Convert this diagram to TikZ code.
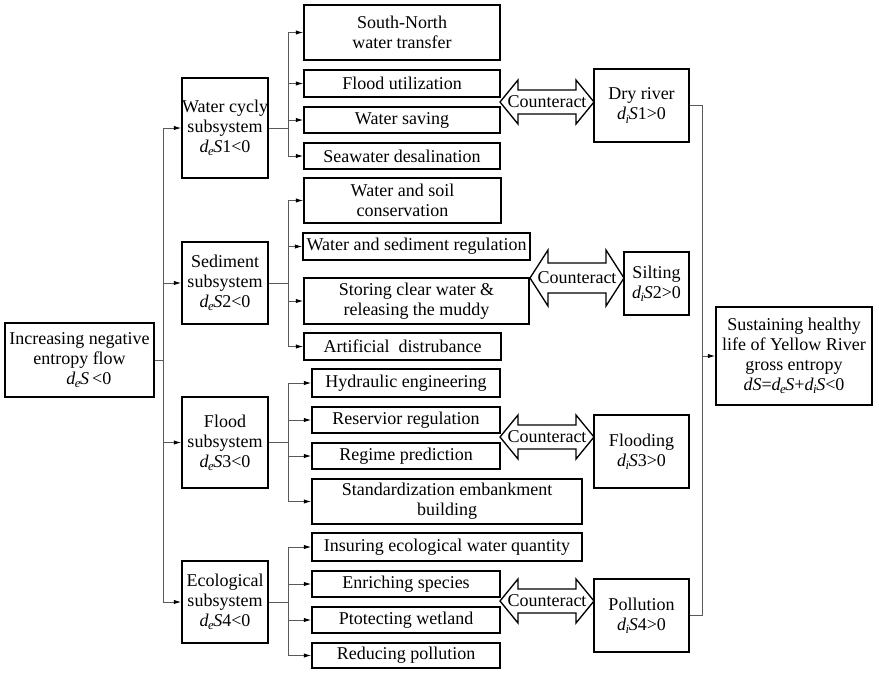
\documentclass[tikz,border=0pt]{standalone}
\usepackage{fontspec}
\setmainfont{Liberation Serif}
\usetikzlibrary{arrows.meta,calc}
\newcommand{\dS}[1]{\textit{d}\kern-0.03em\raisebox{-0.4ex}{\fontsize{9.5}{9.5}\selectfont\textit{#1}}\kern-0.02em\textit{S}}
\newcommand{\bx}[6]{\node[box, minimum width={(#4-#2)*0.75pt}, minimum height={(#5-#3)*0.75pt}] (#1) at ({(#2+#4)/2},{(#3+#5)/2}) {#6};}
\newcommand{\ctr}[7]{%
 \draw[dbl] (#2,#4) -- ({#2+#7},{#4-#6}) -- ({#2+#7},{#4-#5}) -- ({#3-#7},{#4-#5}) -- ({#3-#7},{#4-#6}) -- (#3,#4) -- ({#3-#7},{#4+#6}) -- ({#3-#7},{#4+#5}) -- ({#2+#7},{#4+#5}) -- ({#2+#7},{#4+#6}) -- cycle;
 \node[lbl] (#1) at ({(#2+#3)/2},#4) {Counteract};}
\begin{document}
\begin{tikzpicture}[x=0.75pt,y=-0.75pt,
 box/.style={draw=black, line width=1.1pt, inner sep=0pt, align=center, font=\fontsize{13.5}{15}\selectfont, fill=white},
 conn/.style={draw=black!65, line width=0.7pt},
 arr/.style={conn, -{Latex[length=5.5pt,width=3.2pt,color=black]}},
 dbl/.style={draw=black, line width=1pt, fill=white, line join=miter},
 lbl/.style={inner sep=0pt, font=\fontsize{13.5}{15}\selectfont}]
\useasboundingbox (0,0) rectangle (879,672);

\bx{inc}{5}{323}{154}{397}{Increasing negative\\ entropy flow\hspace*{12pt}\\ \hspace*{14pt}\dS{e}\,<0}
\bx{wc}{182}{78}{268}{178}{Water cycly\\subsystem\\\dS{e}1<0}
\bx{sed}{182}{242}{268}{324}{Sediment\\subsystem\\\dS{e}2<0}
\bx{fld}{182}{397}{268}{488}{Flood\\subsystem\\\dS{e}3<0}
\bx{eco}{182}{561}{268}{643}{Ecological\\subsystem\\\dS{e}4<0}

\bx{a1}{304}{5}{500}{60}{South-North\\water transfer}
\bx{a2}{304}{70}{500}{97}{Flood utilization}
\bx{a3}{304}{107}{500}{133}{Water saving}
\bx{a4}{304}{143}{500}{169}{Seawater desalination}
\bx{b1}{304}{178}{501}{223}{Water and soil\\conservation}
\bx{b2}{303}{233}{530}{260}{Water and sediment regulation}
\bx{b3}{304}{278}{529}{324}{Storing clear water \&\\releasing the muddy}
\bx{b4}{304}{333}{501}{360}{Artificial~ distrubance}
\bx{c1}{312}{369}{500}{397}{Hydraulic engineering}
\bx{c2}{312}{407}{500}{433}{Reservior regulation}
\bx{c3}{312}{443}{500}{469}{Regime prediction}
\bx{c4}{312}{479}{582}{524}{Standardization embankment\\building}
\bx{d1}{312}{533}{582}{561}{Insuring ecological water quantity}
\bx{d2}{312}{571}{500}{597}{Enriching species}
\bx{d3}{312}{607}{500}{633}{Ptotecting wetland}
\bx{d4}{312}{643}{500}{668}{Reducing pollution}

\bx{dry}{594}{69}{689}{142}{Dry river\\\dS{i}1>0}
\bx{silt}{624}{252}{689}{315}{Silting\\\dS{i}2>0}
\bx{flo}{594}{415}{689}{488}{Flooding\\\dS{i}3>0}
\bx{pol}{594}{579}{689}{652}{Pollution\\\dS{i}4>0}
\bx{fin}{716}{307}{872}{405}{Sustaining healthy\\life of Yellow River\\gross entropy\\\textit{dS}=\dS{e}+\dS{i}<0}

\ctr{k1}{500}{594}{102}{12}{22}{18}
\ctr{k2}{530}{624}{278}{15}{28}{18}
\ctr{k3}{500}{594}{437}{12}{22}{18}
\ctr{k4}{500}{594}{601}{12}{22}{18}

\coordinate (T) at (163,0);
\coordinate (B) at (288,0);
\coordinate (R) at (702,0);

\draw[conn] (inc.east) -- (inc.east -| T);
\draw[conn] (T |- wc.west) -- (T |- eco.west);
\foreach \n in {wc,sed,fld,eco} \draw[arr] (T |- \n.west) -- (\n.west);

\foreach \p/\f/\l in {wc/a1/a4, sed/b1/b4, fld/c1/c4, eco/d1/d4} {
 \draw[conn] (\p.east) -- (\p.east -| B);
 \draw[conn] (B |- \f.west) -- (B |- \l.west);
}
\foreach \c in {a1,a2,a3,a4,b1,b2,b3,b4,c1,c2,c3,c4,d1,d2,d3,d4} \draw[arr] (B |- \c.west) -- (\c.west);

\draw[conn] (dry.east) -- (dry.east -| R) -- (R |- pol.east) -- (pol.east);
\draw[arr] (R |- fin.west) -- (fin.west);
\end{tikzpicture}
\end{document}
